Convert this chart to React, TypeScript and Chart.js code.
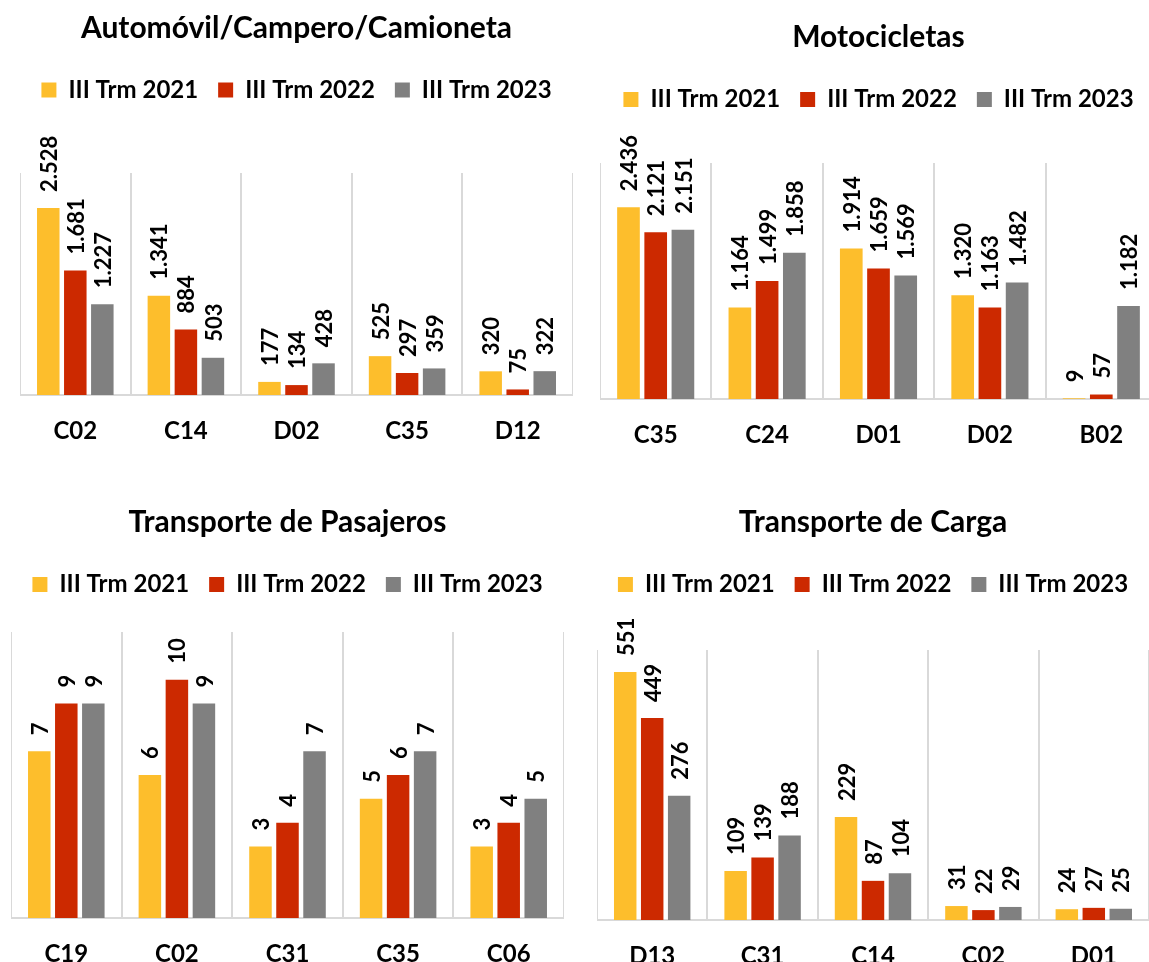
import React, { useEffect, useRef } from 'react';
import { Chart, registerables } from 'chart.js';

Chart.register(...registerables);

// ---------- data ----------
const seriesLabels = ['III Trm 2021', 'III Trm 2022', 'III Trm 2023'];

const autoTitle = 'Automóvil/Campero/Camioneta';
const autoCategories = ['C02', 'C14', 'D02', 'C35', 'D12'];
const auto2021 = [2528, 1341, 177, 525, 320];
const auto2022 = [1681, 884, 134, 297, 75];
const auto2023 = [1227, 503, 428, 359, 322];
const autoMax = 3000;

const motoTitle = 'Motocicletas';
const motoCategories = ['C35', 'C24', 'D01', 'D02', 'B02'];
const moto2021 = [2436, 1164, 1914, 1320, 9];
const moto2022 = [2121, 1499, 1659, 1163, 57];
const moto2023 = [2151, 1858, 1569, 1482, 1182];
const motoMax = 3000;

const pasTitle = 'Transporte de Pasajeros';
const pasCategories = ['C19', 'C02', 'C31', 'C35', 'C06'];
const pas2021 = [7, 6, 3, 5, 3];
const pas2022 = [9, 10, 4, 6, 4];
const pas2023 = [9, 9, 7, 7, 5];
const pasMax = 12;

const cargaTitle = 'Transporte de Carga';
const cargaCategories = ['D13', 'C31', 'C14', 'C02', 'D01'];
const carga2021 = [551, 109, 229, 31, 24];
const carga2022 = [449, 139, 87, 22, 27];
const carga2023 = [276, 188, 104, 29, 25];
const cargaMax = 600;

// ---------- styles ----------
const COLORS = ['#FDBE2C', '#CC2900', '#808080'];
const FONT = 'Lato';
const GRID = '#d9d9d9';

type Layout = {
  left: number; top: number; width: number; height: number;
  titleTop: number; titleBottom: number; spacer: number; padBottom: number;
};

type Spec = {
  title: string; categories: string[]; values: number[][]; max: number; layout: Layout;
};

const fmt = (v: number) => String(v).replace(/\B(?=(\d{3})+(?!\d))/g, '.');

const valueLabels = {
  id: 'valueLabels',
  afterDatasetsDraw(chart: any) {
    const ctx = chart.ctx;
    ctx.save();
    ctx.font = `bold 22px ${FONT}`;
    ctx.fillStyle = '#000';
    ctx.textAlign = 'left';
    ctx.textBaseline = 'middle';
    chart.data.datasets.forEach((ds: any, i: number) => {
      const meta = chart.getDatasetMeta(i);
      meta.data.forEach((el: any, j: number) => {
        ctx.save();
        ctx.translate(el.x + 1.5, el.y - 16);
        ctx.rotate(-Math.PI / 2);
        ctx.fillText(fmt(ds.data[j]), 0, 0);
        ctx.restore();
      });
    });
    ctx.restore();
  },
};

function Panel({ spec }: { spec: Spec }) {
  const ref = useRef<HTMLCanvasElement>(null);
  useEffect(() => {
    if (!ref.current) return;
    const L = spec.layout;
    const chart = new Chart(ref.current, {
      type: 'bar',
      data: {
        labels: spec.categories,
        datasets: spec.values.map((vals, i) => ({
          label: seriesLabels[i],
          data: vals,
          backgroundColor: COLORS[i],
          borderWidth: 0,
          categoryPercentage: 0.733,
          barPercentage: 0.833,
        })),
      },
      options: {
        responsive: false,
        animation: false,
        layout: { padding: { top: 0, left: 0, right: 0, bottom: L.padBottom } },
        plugins: {
          title: {
            display: true,
            text: spec.title,
            color: '#000',
            font: { family: FONT, size: 30, weight: 'bold' },
            padding: { top: L.titleTop, bottom: L.titleBottom },
          },
          legend: {
            display: true,
            position: 'top',
            labels: {
              color: '#000',
              boxWidth: 15,
              boxHeight: 15,
              padding: 20,
              font: { family: FONT, size: 24, weight: 'bold' },
            },
          },
          subtitle: {
            display: true,
            text: '',
            weight: 500,
            font: { size: 10 },
            padding: { top: 0, bottom: L.spacer },
          } as any,
          tooltip: { enabled: false },
        },
        scales: {
          x: {
            grid: { color: GRID, lineWidth: 2, drawTicks: false, offset: true },
            border: { color: GRID, width: 2 },
            ticks: {
              color: '#000',
              padding: 22,
              maxRotation: 0,
              font: { family: FONT, size: 24, weight: 'bold' },
            },
          },
          y: { display: false, min: 0, max: spec.max },
        },
      },
      plugins: [valueLabels],
    });
    return () => chart.destroy();
  }, [spec]);
  const L = spec.layout;
  return (
    <canvas
      ref={ref}
      width={L.width}
      height={L.height}
      style={{ position: 'absolute', left: L.left, top: L.top, width: L.width, height: L.height }}
    />
  );
}

const specs: Spec[] = [
  {
    title: autoTitle, categories: autoCategories, values: [auto2021, auto2022, auto2023], max: autoMax,
    layout: { left: 20, top: 0, width: 553, height: 472, titleTop: 10, titleBottom: 12, spacer: 49, padBottom: 4.2 },
  },
  {
    title: motoTitle, categories: motoCategories, values: [moto2021, moto2022, moto2023], max: motoMax,
    layout: { left: 600, top: 0, width: 557, height: 472, titleTop: 19, titleBottom: 12.5, spacer: 29.5, padBottom: 0.2 },
  },
  {
    title: pasTitle, categories: pasCategories, values: [pas2021, pas2022, pas2023], max: pasMax,
    layout: { left: 11, top: 490, width: 553, height: 503, titleTop: 14.5, titleBottom: 12, spacer: 13.5, padBottom: 2.2 },
  },
  {
    title: cargaTitle, categories: cargaCategories, values: [carga2021, carga2022, carga2023], max: cargaMax,
    layout: { left: 597, top: 490, width: 552, height: 503, titleTop: 14.5, titleBottom: 12, spacer: 31.5, padBottom: 0.2 },
  },
];

export default function App() {
  return (
    <div style={{ position: 'absolute', left: 0, top: 0, width: 1149, height: 962, overflow: 'hidden', background: '#fff' }}>
      {specs.map((s, i) => <Panel key={i} spec={s} />)}
    </div>
  );
}
